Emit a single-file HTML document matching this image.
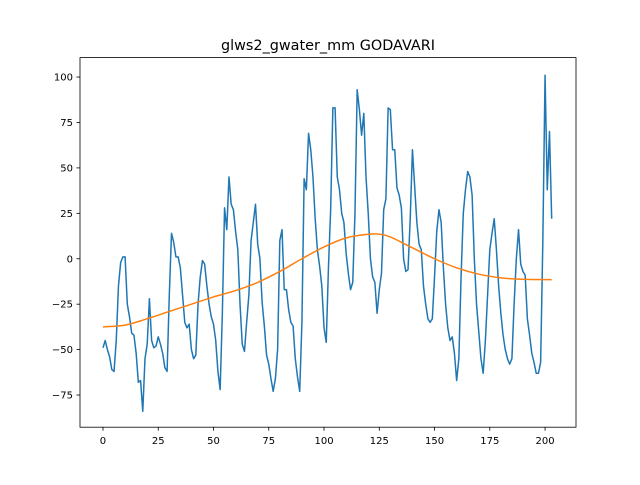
<!DOCTYPE html>
<html><head><meta charset="utf-8"><style>
body{margin:0;background:#fff;font-family:"Liberation Sans","DejaVu Sans",sans-serif}
svg text{font-family:"DejaVu Sans","Liberation Sans",sans-serif}
</style></head><body>
<svg id="chart" width="640" height="480" xmlns="http://www.w3.org/2000/svg">
<rect width="640" height="480" fill="#fff"/>
<text x="328" y="50" font-size="14.4" text-anchor="middle">glws2_gwater_mm GODAVARI</text>
<g id="plot"></g>
<rect x="80" y="57.6" width="496" height="369.6" fill="none" stroke="#000" stroke-width="0.8"/>
</svg>
<script>
const waterValues = [-49,-45,-50,-54,-61,-62,-45,-15,-2,1,1,-25,-32,-41,-42,-52,-68,-67,-84,-55,-47,-22,-45,-49,-48,-43,-47,-52,-60,-62,-20,14,9,1,1,-5,-20,-35,-38,-36,-50,-55,-53,-25,-10,-1,-3,-15,-25,-32,-36,-45,-62,-72,-30,28,16,45,30,27,15,5,-25,-47,-51,-35,-20,10,20,30,8,0,-24,-37,-53,-58,-66,-73,-66,-50,10,16,-17,-17,-28,-35,-37,-55,-65,-73,-35,44,38,69,60,45,22,5,-4,-15,-38,-46,-5,27,83,83,45,38,25,20,3,-8,-17,-13,25,93,82,68,80,45,25,0,-10,-13,-30,-17,-8,27,33,83,82,60,60,39,35,28,0,-7,-6,22,60,40,20,8,5,-15,-25,-33,-35,-33,-10,15,27,20,-5,-25,-38,-45,-43,-52,-67,-55,-10,25,38,48,45,35,0,-25,-40,-55,-63,-45,-20,5,14,22,5,-15,-30,-42,-50,-55,-58,-55,-25,0,16,-3,-7,-9,-33,-42,-52,-57,-63,-63,-57,10,101,38,70,22];
const trendX = [0,10,20,30,40,50,60,70,80,90,100,110,120,125,130,140,150,160,170,180,190,203];
const trendValues = [-37.5,-36.5,-33,-29,-25,-21,-17.5,-13,-7,0,6.5,11.5,13.5,13.5,12,6,0,-5,-8.5,-10.5,-11.3,-11.5];
const xTicks = [0,25,50,75,100,125,150,175,200];
const yTicks = [-75,-50,-25,0,25,50,75,100];

const L=80,R=576,T=57.6,B=427.2;
const xMin=-10.4,xMax=214,yMin=-92.7,yMax=110.7;
const sx=v=>L+(v-xMin)/(xMax-xMin)*(R-L);
const sy=v=>B-(v-yMin)/(yMax-yMin)*(B-T);
const NS="http://www.w3.org/2000/svg";
const g=document.getElementById('plot');
function mk(t,a){const e=document.createElementNS(NS,t);for(const k in a)e.setAttribute(k,a[k]);g.appendChild(e);return e;}
xTicks.forEach(v=>{
  const l=mk('line',{x1:sx(v),x2:sx(v),y1:B,y2:B+3.5,stroke:'#000','stroke-width':0.8});
  
  
  const t=mk('text',{x:sx(v),y:B+17,'font-size':10,'text-anchor':'middle'});t.textContent=v;
  
  
});
yTicks.forEach(v=>{
  const l=mk('line',{x1:L-3.5,x2:L,y1:sy(v),y2:sy(v),stroke:'#000','stroke-width':0.8});
  
  
  const t=mk('text',{x:L-7,y:sy(v)+3.5,'font-size':10,'text-anchor':'end'});t.textContent=v<0?'\u2212'+(-v):v;
  
  
});
const p1=mk('polyline',{points:waterValues.map((v,i)=>sx(i)+','+sy(v)).join(' '),fill:'none',stroke:'#1f77b4','stroke-width':1.5,'stroke-linejoin':'round'});


let pts=trendX.map((x,i)=>[sx(x),sy(trendValues[i])]);
let d='M'+pts[0].join(',');
for(let i=0;i<pts.length-1;i++){const p0=pts[Math.max(0,i-1)],a=pts[i],b=pts[i+1],p3=pts[Math.min(pts.length-1,i+2)];
 d+=' C'+(a[0]+(b[0]-p0[0])/6)+','+(a[1]+(b[1]-p0[1])/6)+' '+(b[0]-(p3[0]-a[0])/6)+','+(b[1]-(p3[1]-a[1])/6)+' '+b[0]+','+b[1];}
const p2=mk('path',{d:d,fill:'none',stroke:'#ff7f0e','stroke-width':1.5});


</script>
</body></html>
